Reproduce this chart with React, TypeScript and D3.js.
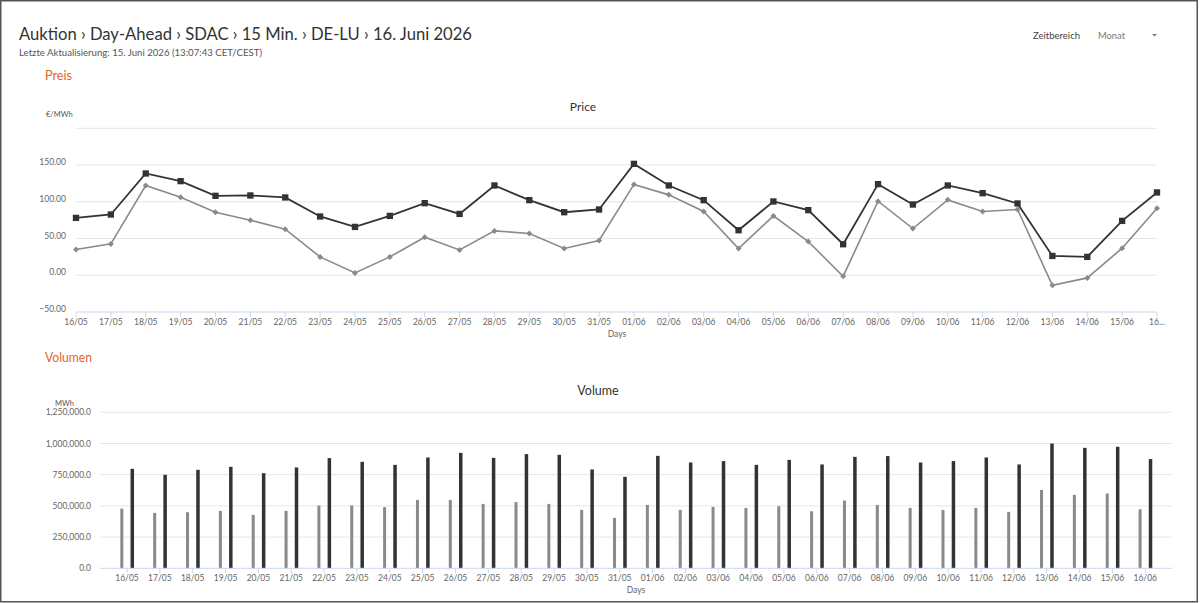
import React from 'react';
import * as d3 from 'd3';

const days = [
  '16/05', '17/05', '18/05', '19/05', '20/05', '21/05', '22/05', '23/05', '24/05', '25/05', '26/05',
  '27/05', '28/05', '29/05', '30/05', '31/05', '01/06', '02/06', '03/06', '04/06', '05/06', '06/06',
  '07/06', '08/06', '09/06', '10/06', '11/06', '12/06', '13/06', '14/06', '15/06', '16/06',
];

const priceDark = [
  78.1, 82.7, 138.5, 128.1, 108.1, 108.6, 105.9, 80.0, 65.8, 80.8, 98.1,
  83.5, 122.2, 102.2, 85.8, 89.5, 151.6, 122.2, 102.2, 61.3, 100.4, 88.6,
  42.2, 124.0, 96.3, 122.2, 111.7, 97.7, 26.3, 25.0, 74.0, 112.7,
];
const priceGray = [
  35.0, 42.7, 122.2, 106.3, 85.8, 74.9, 62.7, 25.0, 3.2, 25.0, 51.8,
  34.5, 60.4, 56.8, 36.4, 47.3, 123.6, 109.4, 86.8, 36.4, 80.8, 45.9,
  -1.4, 100.8, 63.6, 102.6, 86.8, 89.5, -13.6, -3.6, 36.8, 91.3,
];

const volGray = [
  478000, 444000, 449000, 460000, 428000, 460000, 503000, 503000, 490000, 548000, 548000,
  516000, 530000, 516000, 468000, 404000, 508000, 468000, 492000, 484000, 497000, 457000,
  543000, 508000, 484000, 468000, 484000, 452000, 628000, 588000, 599000, 473000,
];
const volDark = [
  797000, 749000, 789000, 813000, 762000, 808000, 883000, 853000, 829000, 888000, 925000,
  885000, 915000, 909000, 792000, 733000, 901000, 848000, 859000, 829000, 869000, 832000,
  893000, 899000, 848000, 859000, 888000, 832000, 1000000, 965000, 974000, 875000,
];

const priceTicks = [-50, 0, 50, 100, 150, 200];
const priceLabelTicks = [-50, 0, 50, 100, 150];
const volTicks = [0, 250000, 500000, 750000, 1000000, 1250000];

const FONT = 'Lato, "Open Sans", sans-serif';
const ORANGE = '#e6622b';
const DARK = '#333333';
const GRAY = '#8a8a8a';
const GRID = '#e6e6e6';
const AXIS = '#ccd6eb';
const LABEL = '#666666';

export default function App() {
  // Price chart scales
  const px = d3.scalePoint<string>().domain(days).range([76, 1157]);
  const py = d3.scaleLinear().domain([-50, 200]).range([312, 128.3]);
  const line = d3
    .line<number>()
    .x((_, i) => px(days[i]) as number)
    .y((d) => py(d));
  const fmtPrice = d3.format('.2f');

  // Volume chart scales
  const vx = d3.scaleBand<string>().domain(days).range([110.6, 1161.7]);
  const vy = d3.scaleLinear().domain([0, 1250000]).range([568.3, 412.3]);
  const fmtVol = d3.format(',.1f');
  const bw = vx.bandwidth();
  const square = d3.symbol().type(d3.symbolSquare).size(40)() as string;
  const diamond = d3.symbol().type(d3.symbolSquare).size(18)() as string;

  const labelFor = (d: string, i: number) => (i === days.length - 1 ? '16...' : d);

  return (
    <div style={{ position: 'absolute', left: 0, top: 0, width: 1200, height: 603 }}>
      <svg width={1200} height={603} style={{ display: 'block', fontFamily: FONT }}>
        <rect x={0} y={0} width={1200} height={603} fill="#ffffff" />
        <rect x={0.75} y={0.75} width={1196.5} height={601} fill="none" stroke="#555555" strokeWidth={1.5} />

        {/* Header */}
        <text x={19} y={39.5} fontSize={17.5} fill="#333" textLength={453} lengthAdjust="spacingAndGlyphs">
          Auktion › Day-Ahead › SDAC › 15 Min. › DE-LU › 16. Juni 2026
        </text>
        <text x={19} y={55.5} fontSize={10} fill="#555" textLength={243} lengthAdjust="spacingAndGlyphs">
          Letzte Aktualisierung: 15. Juni 2026 (13:07:43 CET/CEST)
        </text>
        <text x={1033} y={38.5} fontSize={10} fill="#444" textLength={47} lengthAdjust="spacingAndGlyphs">
          Zeitbereich
        </text>
        <text x={1098} y={38.5} fontSize={10} fill="#777" textLength={27} lengthAdjust="spacingAndGlyphs">
          Monat
        </text>
        <path d="M1152,34 L1157,34 L1154.5,36.5 Z" fill="#777" />

        {/* Price section */}
        <text x={45} y={79.5} fontSize={13} fill={ORANGE} textLength={27} lengthAdjust="spacingAndGlyphs">Preis</text>
        <text x={583} y={111} fontSize={12} fill="#333" textAnchor="middle">Price</text>
        <text x={46} y={116.5} fontSize={7.5} fill="#555">€/MWh</text>

        {priceTicks.filter((t) => t !== -50).map((t) => (
          <line key={'pg' + t} x1={76} x2={1157} y1={py(t)} y2={py(t)} stroke={GRID} strokeWidth={1} />
        ))}
        {priceLabelTicks.map((t) => (
          <text key={'pl' + t} x={66} y={py(t)} fontSize={8.5} fill={LABEL} textAnchor="end">
            {fmtPrice(t)}
          </text>
        ))}
        <line x1={76} x2={1157} y1={py(-50)} y2={py(-50)} stroke={AXIS} strokeWidth={1} />
        {days.map((d, i) => (
          <g key={'px' + d}>
            <line x1={px(d)} x2={px(d)} y1={py(-50)} y2={py(-50) + 5} stroke={AXIS} strokeWidth={1} />
            <text x={px(d)} y={py(-50) + 13} fontSize={8.5} fill={LABEL} textAnchor="middle">
              {labelFor(d, i)}
            </text>
          </g>
        ))}
        <text x={617} y={337} fontSize={8.5} fill={LABEL} textAnchor="middle">Days</text>

        <path d={line(priceGray) as string} fill="none" stroke={GRAY} strokeWidth={1.6} />
        <path d={line(priceDark) as string} fill="none" stroke={DARK} strokeWidth={1.8} />
        {priceGray.map((v, i) => (
          <path
            key={'gm' + i}
            d={diamond}
            transform={`translate(${px(days[i])},${py(v)}) rotate(45)`}
            fill={GRAY}
          />
        ))}
        {priceDark.map((v, i) => (
          <path key={'dm' + i} d={square} transform={`translate(${px(days[i])},${py(v)})`} fill={DARK} />
        ))}

        {/* Volume section */}
        <text x={45} y={362} fontSize={13} fill={ORANGE} textLength={47} lengthAdjust="spacingAndGlyphs">Volumen</text>
        <text x={598} y={395} fontSize={12.5} fill="#333" textAnchor="middle">Volume</text>
        <text x={55} y={406} fontSize={7.5} fill="#555">MWh</text>

        {volTicks.filter((t) => t !== 0).map((t) => (
          <line key={'vg' + t} x1={100} x2={1172} y1={vy(t)} y2={vy(t)} stroke={GRID} strokeWidth={1} />
        ))}
        {volTicks.map((t) => (
          <text key={'vl' + t} x={91} y={vy(t) + 3} fontSize={8.5} fill={LABEL} textAnchor="end">
            {fmtVol(t)}
          </text>
        ))}

        {days.map((d, i) => {
          const c = (vx(d) as number) + bw / 2;
          return (
            <g key={'vb' + d}>
              <rect x={c - 6.7} y={vy(volGray[i])} width={3} height={vy(0) - vy(volGray[i])} fill={GRAY} />
              <rect x={c + 3.5} y={vy(volDark[i])} width={3.5} height={vy(0) - vy(volDark[i])} fill={DARK} />
            </g>
          );
        })}

        <line x1={100} x2={1172} y1={vy(0)} y2={vy(0)} stroke={AXIS} strokeWidth={1} />
        {days.map((d) => {
          const c = (vx(d) as number) + bw / 2;
          return (
            <g key={'vx' + d}>
              <line x1={c} x2={c} y1={vy(0)} y2={vy(0) + 5} stroke={AXIS} strokeWidth={1} />
              <text x={c} y={vy(0) + 12.5} fontSize={8.5} fill={LABEL} textAnchor="middle">
                {d}
              </text>
            </g>
          );
        })}
        <text x={636} y={593} fontSize={8.5} fill={LABEL} textAnchor="middle">Days</text>
      </svg>
    </div>
  );
}
